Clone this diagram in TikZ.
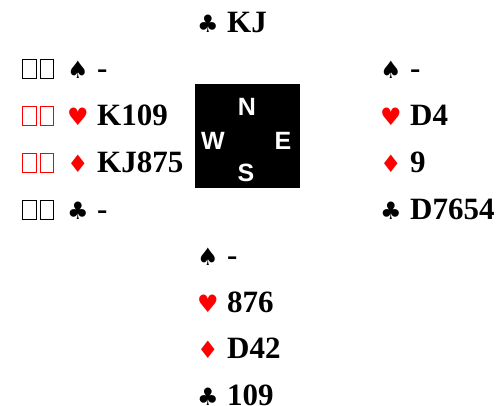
\documentclass[tikz,border=0pt]{standalone}
\usepackage{fontspec}
\setmainfont{Liberation Serif}
\newfontfamily\suitfont{DejaVu Sans}
\newfontfamily\compassfont{Liberation Sans}
\newcommand\tofubox{{\fboxsep=0pt\fboxrule=0.7pt\fbox{\rule{0pt}{18pt}\hspace{13pt}}}}
\newcommand\handline[3]{\makebox[30pt][l]{\color{#1}\suitfont\fontsize{24}{24}\selectfont #2}#3}
\tikzset{
  hand/.style={anchor=base west, inner sep=0pt, font=\fontsize{31}{31}\bfseries\selectfont},
  tofu/.style={anchor=base west, inner sep=0pt},
  compassletter/.style={inner sep=0pt, text=white, font=\compassfont\bfseries\fontsize{25}{25}\selectfont},
  compassbox/.style={fill=black, draw=none}
}
\begin{document}
\begin{tikzpicture}[x=1pt,y=-1pt]
\useasboundingbox (0,0) rectangle (496,405);
% North
\node[hand] (n1) at (197,32) {\handline{black}{♣}{KJ}};
% West
\node[tofu] (wt1) at (22,78) {\tofubox\hspace{3pt}\tofubox};
\node[tofu,red] (wt2) at (22,125) {\tofubox\hspace{3pt}\tofubox};
\node[tofu,red] (wt3) at (22,172) {\tofubox\hspace{3pt}\tofubox};
\node[tofu] (wt4) at (22,219) {\tofubox\hspace{3pt}\tofubox};
\node[hand] (w1) at (67,78) {\handline{black}{♠}{-}};
\node[hand] (w2) at (67,125) {\handline{red}{♥}{K109}};
\node[hand] (w3) at (67,172) {\handline{red}{♦}{KJ875}};
\node[hand] (w4) at (67,219) {\handline{black}{♣}{-}};
% East
\node[hand] (e1) at (380,78) {\handline{black}{♠}{-}};
\node[hand] (e2) at (380,125) {\handline{red}{♥}{D4}};
\node[hand] (e3) at (380,172) {\handline{red}{♦}{9}};
\node[hand] (e4) at (380,219) {\handline{black}{♣}{D7654}};
% South
\node[hand] (s1) at (197,265) {\handline{black}{♠}{-}};
\node[hand] (s2) at (197,312) {\handline{red}{♥}{876}};
\node[hand] (s3) at (197,358) {\handline{red}{♦}{D42}};
\node[hand] (s4) at (197,405) {\handline{black}{♣}{109}};
% Compass
\fill[compassbox] (195,84) rectangle (300,188);
\node[compassletter] (cn) at (247,107) {N};
\node[compassletter] (cw) at (213,141) {W};
\node[compassletter] (ce) at (283,141) {E};
\node[compassletter] (cs) at (246,173) {S};
\end{tikzpicture}
\end{document}
